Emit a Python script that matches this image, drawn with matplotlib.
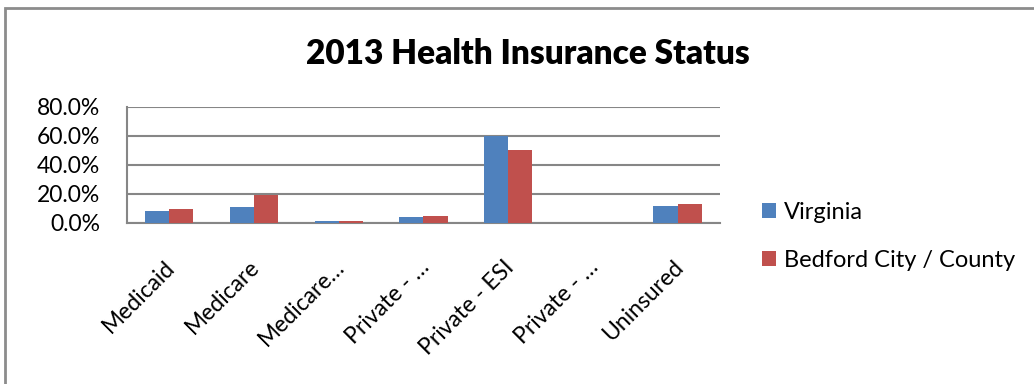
import matplotlib
matplotlib.use('Agg')
import matplotlib.pyplot as plt
from matplotlib.patches import Rectangle
from matplotlib.ticker import PercentFormatter
from matplotlib.transforms import ScaledTranslation
import numpy as np

# coverage type shares, 2013
categories = ['Medicaid', 'Medicare', 'Medicare…', 'Private - …',
              'Private - ESI', 'Private - …', 'Uninsured']
virginia = [8.6, 10.8, 1.2, 4.2, 60.3, 0.0, 11.5]
bedford = [9.4, 19.5, 1.3, 4.6, 50.1, 0.0, 12.9]
series_names = ['Virginia', 'Bedford City / County']

plt.rcParams['font.family'] = ['Lato', 'DejaVu Sans']

fig = plt.figure(figsize=(10.34, 3.84), dpi=100)
ax = fig.add_axes([0.1228, 0.4193, 0.5735, 0.3021])

x = np.arange(len(categories))
w = 0.285
ax.bar(x - w / 2, virginia, w, color='#4F81BD', label=series_names[0], zorder=3)
ax.bar(x + w / 2, bedford, w, color='#C0504D', label=series_names[1], zorder=3)

ax.set_xlim(-0.5, len(categories) - 0.5)
ax.set_ylim(0, 80)
ax.set_yticks([0, 20, 40, 60, 80])
ax.yaxis.set_major_formatter(PercentFormatter(decimals=1))
ax.grid(axis='y', color='#868686', lw=1.5, zorder=0)

for s in ['top', 'right']:
    ax.spines[s].set_visible(False)
for s in ['left', 'bottom']:
    ax.spines[s].set_color('#868686')
    ax.spines[s].set_linewidth(1.5)

ax.tick_params(axis='both', length=0, labelsize=16.5)
ax.tick_params(axis='y', pad=19.5)
ax.set_xticks(x)
ax.set_xticklabels(categories, rotation=45, ha='right', rotation_mode='anchor')
ax.tick_params(axis='x', pad=24)
# nudge the slanted labels a little to the left
shift = ScaledTranslation(-0.05, 0, fig.dpi_scale_trans)
for lab in ax.get_xticklabels():
    lab.set_transform(lab.get_transform() + shift)

fig.text(0.511, 0.859, '2013 Health Insurance Status', ha='center', va='center',
         fontsize=24, fontweight='heavy')

fig.legend(loc='center left', bbox_to_anchor=(0.716, 0.385), frameon=False,
           fontsize=17, handlelength=0.63, handleheight=0.63, handletextpad=0.3,
           labelspacing=1.15)

# outer chart frame
fig.add_artist(Rectangle((5 / 1034, -0.2), 1.2, 1.2 - 8 / 384,
                         transform=fig.transFigure, fill=False,
                         edgecolor='#8c8c8c', lw=2))

fig.savefig('out.png', dpi=100)
